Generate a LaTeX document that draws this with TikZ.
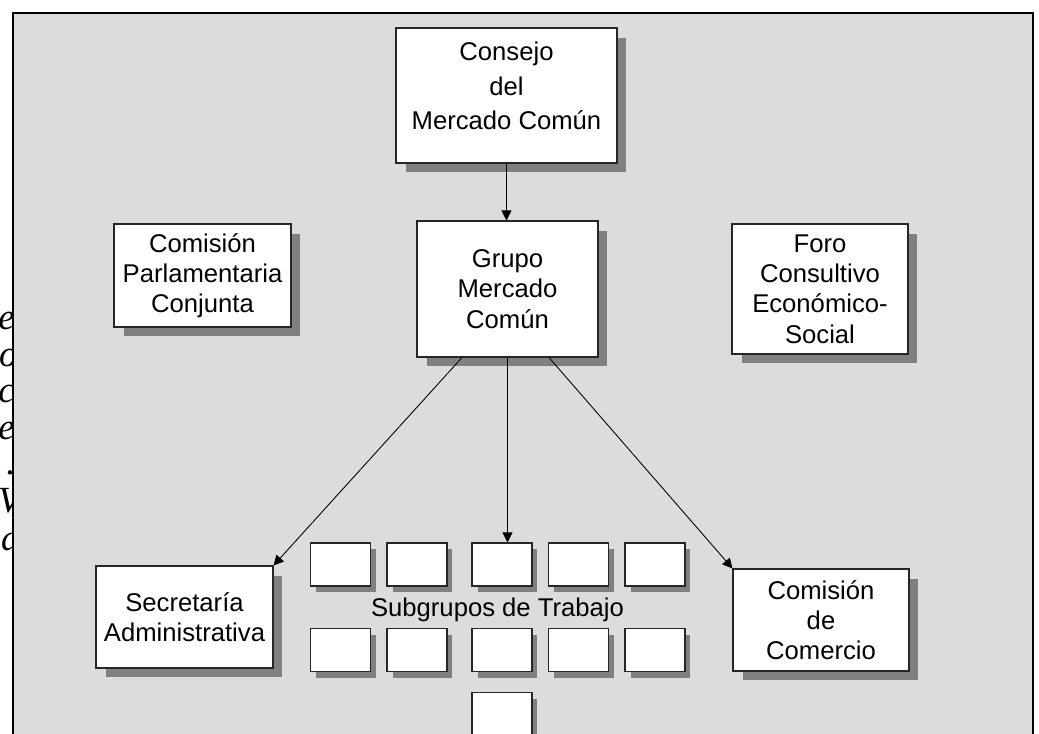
\documentclass[tikz,border=0pt]{standalone}
\usepackage{fontspec}
\setmainfont{Liberation Sans}
\newfontfamily\serifit{Liberation Serif}
\usepackage{tikz}
\usetikzlibrary{arrows.meta,positioning,shadows,calc}
\definecolor{panelgray}{RGB}{220,220,220}
\definecolor{shadowgray}{RGB}{128,128,128}

\begin{document}
\begin{tikzpicture}[x=0.02cm,y=-0.02cm,
  orgbox/.style={draw=black!85,fill=white,line width=0.6pt,align=center,inner sep=0pt,
    font=\fontsize{14.6}{17.2}\selectfont,
    drop shadow={shadow xshift=0.19cm,shadow yshift=-0.19cm,fill=shadowgray,opacity=1}},
  subbox/.style={draw=black!85,fill=white,line width=0.6pt,inner sep=0pt,
    minimum width=1.2cm,minimum height=0.86cm,
    drop shadow={shadow xshift=0.11cm,shadow yshift=-0.12cm,fill=shadowgray,opacity=1}},
  link/.style={line width=0.5pt,-{Triangle[length=0.2cm,width=0.2cm]}}]
\useasboundingbox (0,0) rectangle (1039,734);
% text running under the panel on the left
\foreach \ch/\yy/\xx in {e/329/15,o/366/18,c/402/15,e/439/15,./474/16,V/512/21,d/550/20}
  \node[anchor=base east,inner sep=0pt,font=\serifit\itshape\fontsize{21}{21}\selectfont] at (\xx,\yy) {\ch};
% panel
\fill[panelgray] (13,13) rectangle (1033,740);
\draw[line width=1pt] (13,740) -- (13,13) -- (1033,13) -- (1033,740);
% boxes
\node[orgbox,minimum width=4.42cm,minimum height=2.70cm] (consejo) at (506.5,95.5) {};
\node[align=center,font=\fontsize{14.6}{19.5}\selectfont] (consejotxt) at (506.5,86) {Consejo\\del\\Mercado Común};
\node[orgbox,minimum width=3.62cm,minimum height=2.72cm] (grupo) at (507.5,289) {Grupo\\Mercado\\Común};
\node[orgbox,minimum width=3.54cm,minimum height=2.06cm] (parlamentaria) at (202.5,275.5) {Comisión\\Parlamentaria\\Conjunta};
\node[orgbox,minimum width=3.52cm,minimum height=2.60cm] (foro) at (820,289) {Foro\\Consultivo\\Económico-\\Social};
\node[orgbox,minimum width=3.54cm,minimum height=2.04cm] (secretaria) at (184.5,617) {Secretaría\\Administrativa};
\node[orgbox,minimum width=3.52cm,minimum height=2.04cm] (comercio) at (821,620) {Comisión\\de\\Comercio};
% subgrupos
\foreach \xx [count=\i] in {340.5,417,502,578.5,655} {
  \node[subbox] (sga\i) at (\xx,564.5) {};
  \node[subbox] (sgb\i) at (\xx,650) {};
}
\node[subbox] (sgc) at (502,714) {};
\node[font=\fontsize{14.6}{17.2}\selectfont] (subgrupos) at (497.5,610) {Subgrupos de Trabajo};
% connectors
\draw[link] (consejo.south) -- (consejo.south |- grupo.north);
\draw[link] (grupo.south) -- (grupo.south |- sga3.north);
\draw[link] ([xshift=-0.91cm]grupo.south) -- (secretaria.north east);
\draw[link] ([xshift=0.83cm]grupo.south) -- (comercio.north west);
\end{tikzpicture}
\end{document}
